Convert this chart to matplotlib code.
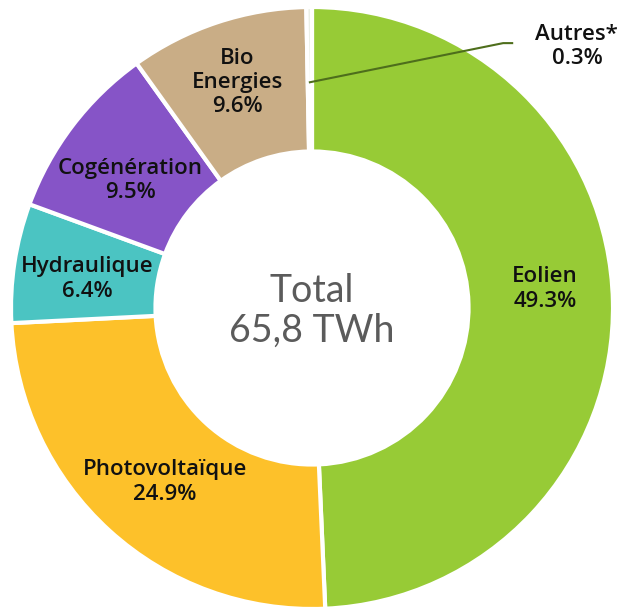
import numpy as np
import matplotlib as mpl
mpl.use("Agg")
import matplotlib.pyplot as plt

# production by source, share of total (%)
sources = ["Eolien", "Photovoltaïque", "Hydraulique", "Cogénération", "Bio\nEnergies", "Autres*"]
shares = [49.3, 24.9, 6.4, 9.5, 9.6, 0.3]
colors = ["#97cb36", "#fdc12a", "#4bc4c2", "#8654c7", "#c9ad86", "#e9eee4"]
total_label = "Total\n65,8 TWh"

plt.rcParams["font.family"] = ["Open Sans", "DejaVu Sans"]

W, H = 625, 610
fig = plt.figure(figsize=(W / 100, H / 100), dpi=100)
cx, cy, r = 312, 308, 301
ax = fig.add_axes([(cx - r) / W, (H - cy - r) / H, 2 * r / W, 2 * r / H])

wedges, _ = ax.pie(shares, colors=colors, startangle=90, counterclock=False,
                   radius=1.0, wedgeprops=dict(width=0.48, edgecolor="white", linewidth=3))
ax.set_xlim(-1, 1)
ax.set_ylim(-1, 1)
ax.set_aspect("equal")
ax.axis("off")

# label radius and angle nudge (deg) per wedge
lab_r = [0.777, 0.757, 0.754, 0.737, 0.79, 0.75]
lab_da = [3.4, 2.1, 1.3, 2.3, 0.0, 0.0]
style = dict(ha="center", va="center", fontsize=16, fontweight="semibold",
             color="#111111", linespacing=1.2)

for w, name, val, rr, da in zip(wedges, sources, shares, lab_r, lab_da):
  mid = np.deg2rad((w.theta1 + w.theta2) / 2 + da)
  if name.startswith("Autres"):
    x0, y0 = rr * np.cos(mid), rr * np.sin(mid)
    ax.plot([x0, 0.635, 0.665], [y0, 0.88, 0.88], color="#4e6e1c", lw=1.5)
    ax.text(0.88, 0.87, "{}\n{}%".format(name, val), **style)
    continue
  ax.text(rr * np.cos(mid), rr * np.sin(mid), "{}\n{}%".format(name, val), **style)

ax.text(0, -0.01, total_label, ha="center", va="center", fontsize=27,
        color="#5b5b5b", linespacing=1.15, family=["Lato", "DejaVu Sans"])

fig.savefig("out.png", dpi=100)
